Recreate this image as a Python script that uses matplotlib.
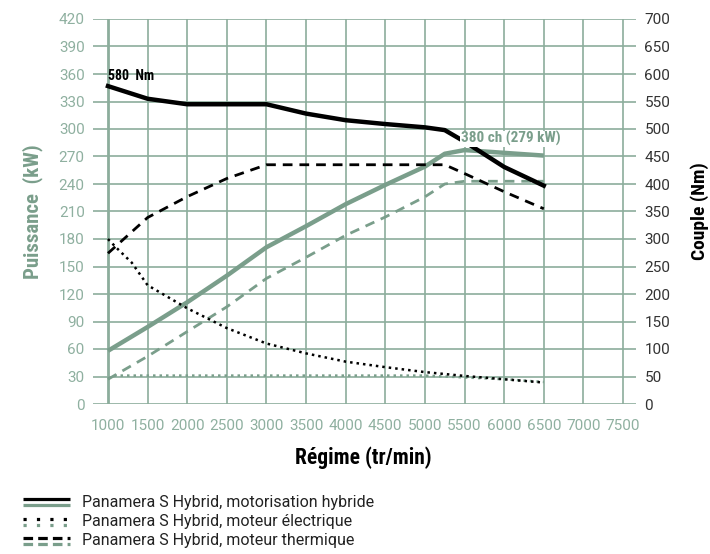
import numpy as np
import matplotlib
matplotlib.use("Agg")
import matplotlib.pyplot as plt
from matplotlib.lines import Line2D
from matplotlib import font_manager

# pick a narrow font if we have one
names = {f.name for f in font_manager.fontManager.ttflist}
narrow = 'Roboto'
for cand in ['Roboto Condensed', 'Liberation Sans Narrow', 'DejaVu Sans Condensed', 'Open Sans Condensed']:
    if cand in names:
        narrow = cand
        break
plt.rcParams['font.family'] = ['Roboto', 'DejaVu Sans']
title_font = [narrow, 'DejaVu Sans']

GREEN = '#7a9e8b'
GRID = '#8cad9c'
TICK = '#8fb0a0'

# data (rpm, kW for power, Nm for torque)
rpm = [1000, 1500, 2000, 2500, 3000, 3500, 4000, 4500, 5000, 5250, 5500, 6000, 6500]
hyb_torque = [578, 555, 545, 545, 545, 528, 516, 509, 503, 498, 477, 431, 397]
hyb_power = [58, 84, 111, 140, 171, 194, 218, 239, 259, 273, 277, 274, 271]
therm_torque = [274, 339, 377, 410, 435, 435, 435, 435, 435, 435, 419, 386, 355]
therm_power = [27, 52, 79, 106, 137, 160, 184, 204, 226, 240, 243, 243, 243]

elec_rpm = [1000, 1100, 1300, 1500, 2000, 2500, 3000, 3500, 4000, 4500, 5000, 5500, 6000, 6500]
elec_torque = [300, 285, 257, 216, 174, 138, 110, 92, 77, 67, 58, 51, 45, 39]
elec_power = [28, 31, 31, 31, 31, 31, 31, 31, 31, 31, 31, 29, 27, 24]

xticks = list(range(1000, 8000, 500))

fig = plt.figure(figsize=(7.1, 5.54), dpi=100)
ax = fig.add_axes([93/710, 1-404/554, (636-93)/710, (404-19)/554])
ax.set_xlim(811, 7664)
ax.set_ylim(0, 420)
for s in ax.spines.values():
    s.set_visible(False)

# grid
for v in xticks:
    ax.axvline(v, color=GRID, lw=2.0 if v == 1000 else 1.2, zorder=1)
for h in range(0, 421, 30):
    ax.axhline(h, color=GRID, lw=1.2, zorder=1)

ax.set_xticks(xticks)
ax.set_yticks(range(0, 421, 30))
ax.tick_params(length=0, labelsize=11, colors=TICK)
ax.tick_params(axis='x', pad=11)
ax.tick_params(axis='y', pad=6)

ax2 = ax.twinx()
ax2.set_ylim(0, 700)
for s in ax2.spines.values():
    s.set_visible(False)
ax2.set_yticks(range(0, 701, 50))
ax2.tick_params(length=0, labelsize=11, colors='#333333', pad=6)

# power curves (left axis)
ax.plot(rpm, hyb_power, color=GREEN, lw=3.2, solid_capstyle='butt', zorder=3)
ax.plot(rpm, therm_power, color=GREEN, lw=2, ls=(0, (3.5, 2.5)), zorder=3)
ax.plot(elec_rpm, elec_power, color=GREEN, lw=1.8, ls=(0, (1, 1.6)), zorder=3)

# torque curves (right axis)
ax2.plot(rpm, hyb_torque, color='black', lw=3.2, zorder=4)
ax2.plot(rpm, therm_torque, color='black', lw=2, ls=(0, (3.5, 2.5)), zorder=4)
ax2.plot(elec_rpm, elec_torque, color='black', lw=1.8, ls=(0, (1, 1.6)), zorder=4)

ax2.text(1000, 583, '580  Nm', fontsize=10, fontweight='bold', color='black', va='bottom', ha='left',
         family=title_font)
ax2.text(5450, 482, '380 ch (279 kW)', fontsize=11, fontweight='bold', color=GREEN, va='center', ha='left',
         family=title_font, bbox=dict(facecolor='white', edgecolor='none', pad=0.5), zorder=5)

fig.text(363/710, 1-458/554, 'Régime (tr/min)', fontsize=15.5, fontweight='bold', ha='center', va='center',
         family=title_font)
fig.text(33/710, 1-212/554, 'Puissance  (kW)', fontsize=15, fontweight='bold', color=GREEN,
         ha='center', va='center', rotation=90, family=title_font)
fig.text(700/710, 1-211/554, 'Couple (Nm)', fontsize=14, fontweight='bold', color='black',
         ha='center', va='center', rotation=90, family=title_font)

# legend drawn by hand: black over green for each style
legend_rows = [
    ('Panamera S Hybrid, motorisation hybride', '-'),
    ('Panamera S Hybrid, moteur électrique', (0, (1, 3.2))),
    ('Panamera S Hybrid, moteur thermique', (0, (3, 1.6))),
]
y0 = 502
for i, (lab, ls) in enumerate(legend_rows):
    yc = y0 + i * 19.5
    for dy, col in ((-3, 'black'), (3, GREEN)):
        yy = 1 - (yc + dy) / 554
        fig.add_artist(Line2D([23/710, 70/710], [yy, yy], color=col, lw=2.3, ls=ls,
                              solid_capstyle='butt', dash_capstyle='butt', transform=fig.transFigure))
    fig.text(82/710, 1 - yc/554, lab, fontsize=11.5, color='#222222', va='center', ha='left')

fig.savefig('out.png', dpi=100)
